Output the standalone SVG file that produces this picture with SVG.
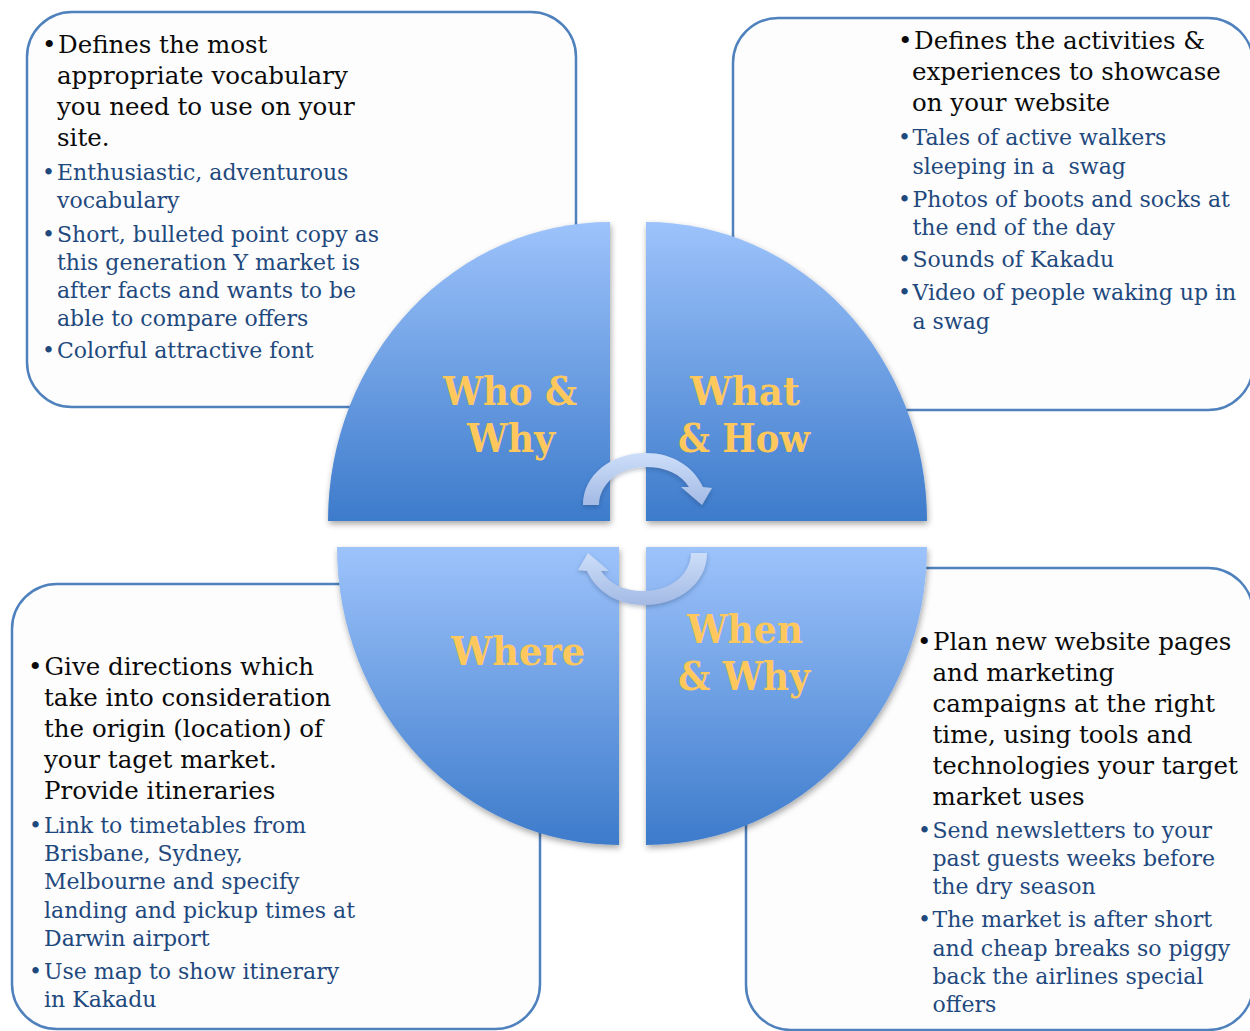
<svg xmlns="http://www.w3.org/2000/svg" width="1250" height="1031" viewBox="0 0 1250 1031">
<defs>
<linearGradient id="qgrad" x1="0" y1="0" x2="0" y2="1">
<stop offset="0" stop-color="#9DC3FB"/>
<stop offset="1" stop-color="#3D7BCB"/>
</linearGradient>
<linearGradient id="agrad" x1="0" y1="0" x2="0" y2="1">
<stop offset="0" stop-color="#CCDEF9"/>
<stop offset="1" stop-color="#A4BAE4"/>
</linearGradient>
<filter id="shadow" x="-10%" y="-10%" width="120%" height="125%">
<feDropShadow dx="1" dy="3" stdDeviation="3" flood-color="#000" flood-opacity="0.35"/>
</filter>
<filter id="ashadow" x="-20%" y="-20%" width="140%" height="150%">
<feDropShadow dx="0" dy="2" stdDeviation="2" flood-color="#203050" flood-opacity="0.3"/>
</filter>
<style>
.box{fill:#FDFDFD;stroke:#4F81BD;stroke-width:2.5}
.blk{font-family:"DejaVu Serif","Liberation Serif",serif;font-size:24.5px;fill:#0A0A0A}
.blu{font-family:"DejaVu Serif","Liberation Serif",serif;font-size:22px;fill:#1F497D}
.quad{fill:url(#qgrad);filter:url(#shadow)}
.lbl{font-family:"DejaVu Serif","Liberation Serif",serif;font-weight:bold;font-size:40px;fill:#FFC85C}
.arr{fill:url(#agrad);filter:url(#ashadow)}
</style>
</defs>
<rect width="1250" height="1031" fill="#FFFFFF"/>

<g id="box-who">
<rect class="box" x="27" y="12" width="549" height="395" rx="45" ry="45"/>
<text class="blk" y="53"><tspan x="42">•</tspan><tspan x="58">Defines the most</tspan></text>
<text class="blk" x="57" y="84">appropriate vocabulary</text>
<text class="blk" x="57" y="115">you need to use on your</text>
<text class="blk" x="57" y="146">site.</text>
<text class="blu" y="180"><tspan x="42">•</tspan><tspan x="57">Enthusiastic, adventurous</tspan></text>
<text class="blu" x="57" y="208">vocabulary</text>
<text class="blu" y="241.5"><tspan x="42">•</tspan><tspan x="57">Short, bulleted point copy as</tspan></text>
<text class="blu" x="57" y="270">this generation Y market is</text>
<text class="blu" x="57" y="298">after facts and wants to be</text>
<text class="blu" x="57" y="326">able to compare offers</text>
<text class="blu" y="358"><tspan x="42">•</tspan><tspan x="57">Colorful attractive font</tspan></text>
</g>

<g id="box-what">
<rect class="box" x="733" y="18" width="520" height="392" rx="45" ry="45"/>
<text class="blk" y="49"><tspan x="898">•</tspan><tspan x="914">Defines the activities &amp;</tspan></text>
<text class="blk" x="912" y="80">experiences to showcase</text>
<text class="blk" x="912" y="110.5">on your website</text>
<text class="blu" y="145"><tspan x="898">•</tspan><tspan x="912.5">Tales of active walkers</tspan></text>
<text class="blu" x="912.5" y="173.5" xml:space="preserve">sleeping in a  swag</text>
<text class="blu" y="206.5"><tspan x="898">•</tspan><tspan x="912.5">Photos of boots and socks at</tspan></text>
<text class="blu" x="912.5" y="235">the end of the day</text>
<text class="blu" y="267"><tspan x="898">•</tspan><tspan x="912.5">Sounds of Kakadu</tspan></text>
<text class="blu" y="300"><tspan x="898">•</tspan><tspan x="912.5">Video of people waking up in</tspan></text>
<text class="blu" x="912.5" y="328.5">a swag</text>
</g>

<g id="box-where">
<rect class="box" x="12" y="584" width="528" height="445" rx="45" ry="45"/>
<text class="blk" y="675"><tspan x="28">•</tspan><tspan x="44.5">Give directions which</tspan></text>
<text class="blk" x="44" y="706">take into consideration</text>
<text class="blk" x="44" y="737">the origin (location) of</text>
<text class="blk" x="44" y="768">your taget market.</text>
<text class="blk" x="44" y="799">Provide itineraries</text>
<text class="blu" y="833"><tspan x="29">•</tspan><tspan x="44">Link to timetables from</tspan></text>
<text class="blu" x="44" y="861">Brisbane, Sydney,</text>
<text class="blu" x="44" y="889">Melbourne and specify</text>
<text class="blu" x="44" y="917.5">landing and pickup times at</text>
<text class="blu" x="44" y="946">Darwin airport</text>
<text class="blu" y="979"><tspan x="29">•</tspan><tspan x="44">Use map to show itinerary</tspan></text>
<text class="blu" x="44" y="1007">in Kakadu</text>
</g>

<g id="box-when">
<rect class="box" x="746" y="568" width="507" height="462" rx="45" ry="45"/>
<text class="blk" y="650"><tspan x="917">•</tspan><tspan x="933">Plan new website pages</tspan></text>
<text class="blk" x="932.5" y="681">and marketing</text>
<text class="blk" x="932.5" y="711.5">campaigns at the right</text>
<text class="blk" x="932.5" y="742.5">time, using tools and</text>
<text class="blk" x="932.5" y="773.5">technologies your target</text>
<text class="blk" x="932.5" y="804.5">market uses</text>
<text class="blu" y="837.5"><tspan x="918">•</tspan><tspan x="932.5">Send newsletters to your</tspan></text>
<text class="blu" x="932.5" y="866">past guests weeks before</text>
<text class="blu" x="932.5" y="893.5">the dry season</text>
<text class="blu" y="926.5"><tspan x="918">•</tspan><tspan x="932.5">The market is after short</tspan></text>
<text class="blu" x="932.5" y="955.5">and cheap breaks so piggy</text>
<text class="blu" x="932.5" y="984">back the airlines special</text>
<text class="blu" x="932.5" y="1012">offers</text>
</g>

<g id="quad-who">
<path class="quad" d="M610,521 L328,521 A282,299 0 0 1 610,222 Z"/>
<text class="lbl" x="443" y="405" textLength="134" lengthAdjust="spacingAndGlyphs">Who &amp;</text>
<text class="lbl" x="467" y="452" textLength="88" lengthAdjust="spacingAndGlyphs">Why</text>
</g>
<g id="quad-what">
<path class="quad" d="M646,521 L646,222 A281,299 0 0 1 927,521 Z"/>
<text class="lbl" x="690" y="405" textLength="110" lengthAdjust="spacingAndGlyphs">What</text>
<text class="lbl" x="678" y="452" textLength="132" lengthAdjust="spacingAndGlyphs">&amp; How</text>
</g>
<g id="quad-where">
<path class="quad" d="M619,547 L619,845 A282,298 0 0 1 337,547 Z"/>
<text class="lbl" x="451" y="665" textLength="134" lengthAdjust="spacingAndGlyphs">Where</text>
</g>
<g id="quad-when">
<path class="quad" d="M646,547 L927,547 A281,298 0 0 1 646,845 Z"/>
<text class="lbl" x="687" y="643" textLength="116" lengthAdjust="spacingAndGlyphs">When</text>
<text class="lbl" x="678" y="690" textLength="132" lengthAdjust="spacingAndGlyphs">&amp; Why</text>
</g>

<g id="connectors">
<path class="arr" d="M583,505 C583,475 611,453 646,453 C672,453 693,466 703,487 L712,488 L702,505 L681,487 L689,487 C681,474 666,467 646,467 C619,467 599,484 599,505 Z"/>
<path class="arr" d="M707,553 C707,583 679,605 644,605 C618,605 597,592 587,571 L578,570 L588,553 L609,571 L601,571 C609,584 624,591 644,591 C671,591 691,574 691,553 Z"/>
</g>
</svg>
